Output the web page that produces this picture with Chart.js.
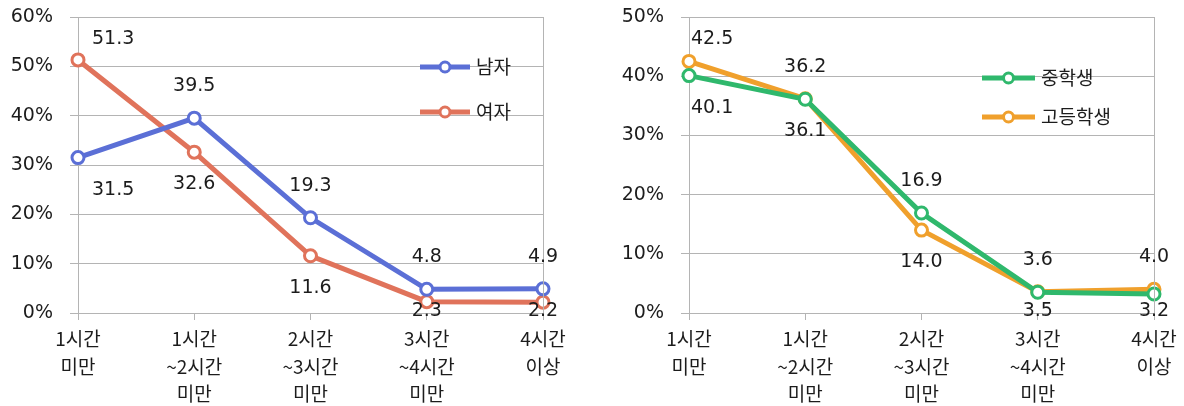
<!DOCTYPE html>
<html>
<head>
<meta charset="utf-8">
<script src="https://cdn.jsdelivr.net/npm/chart.js@4/dist/chart.umd.min.js"></script>
<style>
  body { margin: 0; background: #fff; }
  .box { position: absolute; top: 0; height: 406px; }
  #leftBox { left: 0; width: 590px; }
  #rightBox { left: 590px; width: 594px; }
</style>
</head>
<body>
<div class="box" id="leftBox"><canvas id="genderChart" width="590" height="406"></canvas></div>
<div class="box" id="rightBox"><canvas id="schoolChart" width="594" height="406"></canvas></div>
<script>
const categories = [
    ["1시간", "미만"],
    ["1시간", "~2시간", "미만"],
    ["2시간", "~3시간", "미만"],
    ["3시간", "~4시간", "미만"],
    ["4시간", "이상"],
];
const maleValues = [31.5, 39.5, 19.3, 4.8, 4.9];
const femaleValues = [51.3, 32.6, 11.6, 2.3, 2.2];
const middleValues = [40.1, 36.1, 16.9, 3.5, 3.2];
const highValues = [42.5, 36.2, 14.0, 3.6, 4.0];
const genderTicks = [0, 10, 20, 30, 40, 50, 60];
const schoolTicks = [0, 10, 20, 30, 40, 50];

// where each value label sits relative to its point
const maleSides = ["below", "above", "above", "above", "above"];
const femaleSides = ["above", "below", "below", "below", "below"];
const middleSides = ["below", "below", "above", "below", "below"];
const highSides = ["above", "above", "below", "above", "above"];

const gridColor = "#b4b4b4";
const textColor = "#1c1c1c";
const numFont = '19px "DejaVu Sans", "Noto Sans CJK KR"';
const krFont = '19px "Noto Sans CJK KR", "DejaVu Sans"';

const decorPlugin = {
    id: "decor",
    afterDatasetsDraw(chart, args, opts) {
        const ctx = chart.ctx;
        const area = chart.chartArea;
        ctx.save();

        // right frame line
        ctx.strokeStyle = gridColor;
        ctx.lineWidth = 1;
        ctx.beginPath();
        ctx.moveTo(Math.round(area.right) + 0.5, area.top);
        ctx.lineTo(Math.round(area.right) + 0.5, area.bottom);
        ctx.stroke();

        // value labels
        ctx.font = numFont;
        ctx.fillStyle = textColor;
        ctx.textBaseline = "middle";
        chart.data.datasets.forEach((ds, di) => {
            const meta = chart.getDatasetMeta(di);
            meta.data.forEach((pt, i) => {
                const side = opts.sides[di][i];
                let y = side === "above"
                    ? Math.max(pt.y - 32, area.top + 22)
                    : Math.min(pt.y + 32, area.bottom - 2);
                let x = pt.x;
                ctx.textAlign = "center";
                if (i === 0) {
                    ctx.textAlign = "left";
                    x = pt.x + opts.firstDx;
                }
                ctx.fillText(ds.data[i].toFixed(1), x, y);
            });
        });

        // legend
        const lg = opts.legend;
        chart.data.datasets.forEach((ds, di) => {
            const y = lg.y + di * lg.gap;
            ctx.strokeStyle = ds.borderColor;
            ctx.lineWidth = 5;
            ctx.beginPath();
            ctx.moveTo(lg.x, y);
            ctx.lineTo(lg.x + lg.len, y);
            ctx.stroke();
            ctx.beginPath();
            ctx.arc(lg.x + lg.len / 2, y, 5, 0, Math.PI * 2);
            ctx.fillStyle = "#fff";
            ctx.fill();
            ctx.lineWidth = 3;
            ctx.stroke();
            ctx.font = krFont;
            ctx.fillStyle = textColor;
            ctx.textAlign = "left";
            ctx.fillText(ds.label, lg.x + lg.len + 6, y);
        });
        ctx.restore();
    },
};

function lineSet(label, data, color) {
    return {
        label: label,
        data: data,
        borderColor: color,
        backgroundColor: "#fff",
        borderWidth: 5,
        pointRadius: 6,
        pointBorderWidth: 3,
        pointBackgroundColor: "#fff",
        pointBorderColor: color,
        tension: 0,
    };
}

function makeChart(id, datasets, ticks, yWidth, rightPad, decor) {
    const ctx = document.getElementById(id);
    return new Chart(ctx, {
        type: "line",
        data: { labels: categories, datasets: datasets },
        plugins: [decorPlugin],
        options: {
            responsive: false,
            animation: false,
            layout: { padding: { top: 17, right: rightPad, left: 0, bottom: 0 } },
            scales: {
                x: {
                    offset: false,
                    grid: { drawOnChartArea: false, drawTicks: true, tickLength: 7, color: gridColor },
                    border: { color: gridColor },
                    ticks: {
                        color: textColor,
                        font: { family: '"Noto Sans CJK KR", "DejaVu Sans"', size: 19, lineHeight: 1.45 },
                        padding: 5,
                        maxRotation: 0,
                        autoSkip: false,
                    },
                    afterFit: (scale) => { scale.height = 93; },
                },
                y: {
                    min: ticks[0],
                    max: ticks[ticks.length - 1],
                    afterBuildTicks: (scale) => { scale.ticks = ticks.map((v) => ({ value: v })); },
                    grid: { color: gridColor, tickLength: 8 },
                    border: { color: gridColor },
                    ticks: {
                        color: textColor,
                        font: { family: '"DejaVu Sans"', size: 19 },
                        padding: 17,
                        callback: (v) => v + "%",
                    },
                    afterFit: (scale) => {
                        scale.width = yWidth;
                        scale.paddingTop = 0;
                        scale.paddingBottom = 0;
                    },
                },
            },
            plugins: {
                legend: { display: false },
                tooltip: { enabled: false },
                decor: decor,
            },
        },
    });
}

makeChart("genderChart", [
    lineSet("남자", maleValues, "#5b6fd6"),
    lineSet("여자", femaleValues, "#e0735b"),
], genderTicks, 78, 47, {
    sides: [maleSides, femaleSides],
    firstDx: 14,
    legend: { x: 420, y: 67, gap: 45, len: 50 },
});

makeChart("schoolChart", [
    lineSet("중학생", middleValues, "#2fb86c"),
    lineSet("고등학생", highValues, "#f0a02c"),
], schoolTicks, 99, 30, {
    sides: [middleSides, highSides],
    firstDx: 2,
    legend: { x: 392, y: 78, gap: 39, len: 53 },
});
</script>
</body>
</html>
